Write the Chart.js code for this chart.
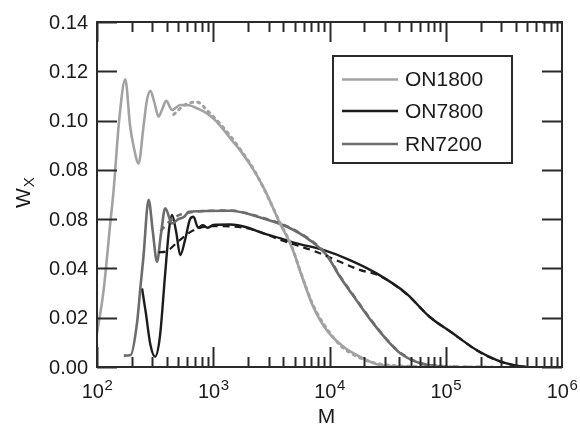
<!DOCTYPE html>
<html><head><meta charset="utf-8">
<script src="https://cdn.jsdelivr.net/npm/chart.js@4"></script>
<style>html,body{margin:0;padding:0;background:#fff;}#wrap{width:580px;height:424px;}</style>
</head><body><div id="wrap"><canvas id="c" width="580" height="424"></canvas></div>
<script>
// ---- data ----
const seriesNames = ['ON1800', 'ON7800', 'RN7200'];

const on1800M = [100, 114, 130, 139, 155, 175, 193, 207, 228, 251, 269, 288, 309, 339, 363, 394, 442, 520, 617, 724, 883, 1047, 1230, 1445, 1698, 2223, 2780, 3750, 4720, 5940, 7240, 9440, 13180, 18200, 26900, 39800, 50000];
const on1800W = [0.0137, 0.0312, 0.0583, 0.0718, 0.100, 0.1167, 0.0975, 0.0893, 0.0826, 0.0975, 0.1083, 0.1121, 0.108, 0.1016, 0.1045, 0.108, 0.1043, 0.1063, 0.1062, 0.105, 0.1029, 0.100, 0.0962, 0.092, 0.088, 0.080, 0.0718, 0.0583, 0.0488, 0.0353, 0.0245, 0.015, 0.0082, 0.0042, 0.0008, 0.0002, 0.0];

const on7800M = [244, 263, 288, 316, 347, 386, 417, 442, 479, 520, 575, 631, 676, 741, 813, 891, 1000, 1393, 1995, 2692, 3802, 5212, 8830, 14960, 25400, 45700, 72400, 114800, 184000, 275000, 380000, 490000];
const on7800W = [0.0319, 0.022, 0.009, 0.0042, 0.012, 0.038, 0.056, 0.0617, 0.055, 0.0454, 0.052, 0.060, 0.061, 0.0565, 0.0575, 0.0565, 0.0576, 0.0578, 0.0565, 0.0542, 0.0522, 0.0502, 0.0475, 0.0434, 0.038, 0.0299, 0.0204, 0.0137, 0.0069, 0.0028, 0.0008, 0.0];

const rn7200M = [170, 195, 221, 236, 251, 278, 302, 328, 355, 386, 442, 501, 562, 617, 1393, 2692, 4266, 6761, 9440, 12300, 16980, 23770, 33110, 40270, 60260, 100000];
const rn7200W = [0.0046, 0.0049, 0.0179, 0.032, 0.0448, 0.0678, 0.055, 0.0427, 0.054, 0.0644, 0.0583, 0.060, 0.061, 0.063, 0.0634, 0.0603, 0.057, 0.0515, 0.0454, 0.0366, 0.0272, 0.0177, 0.0096, 0.0057, 0.0015, 0.0];

// model fits (dotted / dashed curves)
const on1800FitM = [457, 575, 724, 891, 1230, 1698, 2239, 2818, 3715, 4677, 5888, 7244, 9333, 12590, 17780, 25120, 50120, 251200];
const on1800FitW = [0.1025, 0.1065, 0.1075, 0.104, 0.097, 0.0885, 0.080, 0.071, 0.059, 0.0495, 0.036, 0.025, 0.016, 0.0085, 0.004, 0.0015, 0.0003, 0.0];

const on7800FitM = [339, 398, 501, 676, 1000, 1995, 3981, 7943, 12300, 18200, 26900, 45700, 72400, 114800, 184000, 275000, 398000, 501000];
const on7800FitW = [0.0465, 0.047, 0.051, 0.0555, 0.0572, 0.0562, 0.0512, 0.0465, 0.0427, 0.0394, 0.037, 0.0297, 0.0205, 0.0137, 0.0068, 0.0027, 0.0006, 0.0];

const rn7200FitM = [351, 398, 501, 708, 1380, 2692, 4266, 6761, 9440, 12300, 16980, 23770, 33110, 40270, 60260, 100000, 199500];
const rn7200FitW = [0.055, 0.058, 0.0615, 0.063, 0.0635, 0.0605, 0.0572, 0.0518, 0.0456, 0.037, 0.0275, 0.018, 0.0098, 0.006, 0.0016, 0.0003, 0.0];

const seriesColors = ['#a2a2a2', '#1c1c1c', '#6c6c6c'];

const yTickValues = [0, 0.02, 0.04, 0.06, 0.08, 0.10, 0.12, 0.14];
const yTickLabels = ['0.00', '0.02', '0.04', '0.08', '0.08', '0.10', '0.12', '0.14'];
const xTickValues = [100, 1000, 10000, 100000, 1000000];
const xTickBase = ['10', '10', '10', '10', '10'];
const xTickExp = ['2', '3', '4', '5', '6'];
const xTitle = 'M';
const yTitleMain = 'W';
const yTitleSub = 'X';

// ---- build datasets ----
function pts(ms, ws) { return ms.map((m, i) => ({ x: m, y: ws[i] })); }

const datasets = [
  { label: seriesNames[0] + ' fit', data: pts(on1800FitM, on1800FitW), borderColor: seriesColors[0], borderWidth: 3, borderDash: [2, 5], borderCapStyle: 'round', legend: false },
  { label: seriesNames[2] + ' fit', data: pts(rn7200FitM, rn7200FitW), borderColor: seriesColors[2], borderWidth: 2.5, borderDash: [6, 5], legend: false },
  { label: seriesNames[1] + ' fit', data: pts(on7800FitM, on7800FitW), borderColor: seriesColors[1], borderWidth: 2.2, borderDash: [7, 5], legend: false },
  { label: seriesNames[0], data: pts(on1800M, on1800W), borderColor: seriesColors[0], borderWidth: 2.6, legend: true },
  { label: seriesNames[2], data: pts(rn7200M, rn7200W), borderColor: seriesColors[2], borderWidth: 2.6, legend: true },
  { label: seriesNames[1], data: pts(on7800M, on7800W), borderColor: seriesColors[1], borderWidth: 2.4, legend: true }
].map(d => Object.assign({ fill: false, pointRadius: 0, cubicInterpolationMode: 'monotone' }, d));

const FONT = '"Liberation Sans", Arial, Helvetica, sans-serif';

const framePlugin = {
  id: 'frame',
  afterDraw(chart) {
    const ctx = chart.ctx, a = chart.chartArea;
    const xs = chart.scales.x, ys = chart.scales.y;
    ctx.save();
    ctx.strokeStyle = '#2a2a2a';
    ctx.lineWidth = 2;
    ctx.strokeRect(a.left, a.top, a.right - a.left, a.bottom - a.top);
    // y ticks (inside, both sides)
    ctx.beginPath();
    yTickValues.forEach(v => {
      const y = Math.round(ys.getPixelForValue(v)) + 0.5;
      ctx.moveTo(a.left, y); ctx.lineTo(a.left + 20, y);
      ctx.moveTo(a.right, y); ctx.lineTo(a.right - 20, y);
    });
    ctx.stroke();
    // x ticks (inside, top and bottom), majors and minors
    ctx.beginPath();
    for (let e = 0; e < xTickValues.length - 1; e++) {
      const dec = xTickValues[e];
      for (let k = 1; k <= 9; k++) {
        const x = Math.round(xs.getPixelForValue(dec * k)) + 0.5;
        const len = k === 1 ? 20 : 10;
        ctx.moveTo(x, a.bottom); ctx.lineTo(x, a.bottom - len);
        ctx.moveTo(x, a.top); ctx.lineTo(x, a.top + len);
      }
    }
    ctx.stroke();
    // y tick labels
    ctx.fillStyle = '#1a1a1a';
    ctx.font = '20px ' + FONT;
    ctx.textAlign = 'right';
    ctx.textBaseline = 'middle';
    yTickValues.forEach((v, i) => {
      ctx.fillText(yTickLabels[i], a.left - 9, ys.getPixelForValue(v) + 1);
    });
    // x tick labels with superscripts
    xTickValues.forEach((v, i) => {
      const x = xs.getPixelForValue(v);
      ctx.font = '20px ' + FONT;
      const wb = ctx.measureText(xTickBase[i]).width;
      ctx.font = '15px ' + FONT;
      const we = ctx.measureText(xTickExp[i]).width;
      const start = x - (wb + we) / 2;
      ctx.textAlign = 'left';
      ctx.textBaseline = 'alphabetic';
      ctx.font = '20px ' + FONT;
      ctx.fillText(xTickBase[i], start, 398);
      ctx.font = '15px ' + FONT;
      ctx.fillText(xTickExp[i], start + wb + 0.5, 390);
    });
    // x title
    ctx.font = '21px ' + FONT;
    ctx.textAlign = 'center';
    ctx.textBaseline = 'alphabetic';
    ctx.fillText(xTitle, (a.left + a.right) / 2 - 3, 423);
    // y title (rotated, with subscript)
    ctx.save();
    ctx.font = '21px ' + FONT;
    const ww = ctx.measureText(yTitleMain).width;
    ctx.translate(30, 208);
    ctx.rotate(-Math.PI / 2);
    ctx.textAlign = 'left';
    ctx.textBaseline = 'alphabetic';
    ctx.fillText(yTitleMain, 0, 0);
    ctx.font = '15px ' + FONT;
    ctx.fillText(yTitleSub, ww + 1, 4);
    ctx.restore();
    // legend box
    const lx = 333, ly = 56, lw = 179, lh = 107;
    ctx.lineWidth = 2;
    ctx.strokeStyle = '#2a2a2a';
    ctx.strokeRect(lx, ly, lw, lh);
    const rows = [79.5, 111, 144];
    const legendSets = chart.data.datasets.filter(d => d.legend);
    seriesNames.forEach((name, i) => {
      const ds = legendSets.find(d => d.label === name);
      ctx.strokeStyle = ds.borderColor;
      ctx.lineWidth = ds.borderWidth;
      ctx.setLineDash([]);
      ctx.beginPath();
      ctx.moveTo(342, rows[i]); ctx.lineTo(398, rows[i]);
      ctx.stroke();
      ctx.fillStyle = '#1a1a1a';
      ctx.font = '21px ' + FONT;
      ctx.textAlign = 'left';
      ctx.textBaseline = 'middle';
      ctx.fillText(name, 405, rows[i] + 1);
    });
    ctx.restore();
  }
};

new Chart(document.getElementById('c'), {
  type: 'line',
  data: { datasets },
  options: {
    responsive: false,
    animation: false,
    devicePixelRatio: 1,
    layout: { padding: { left: 97, right: 18, top: 22, bottom: 57 } },
    plugins: { legend: { display: false }, tooltip: { enabled: false } },
    scales: {
      x: { type: 'logarithmic', min: 100, max: 1000000, display: false },
      y: { type: 'linear', min: 0, max: 0.14, display: false }
    }
  },
  plugins: [framePlugin]
});
</script>
</body></html>
